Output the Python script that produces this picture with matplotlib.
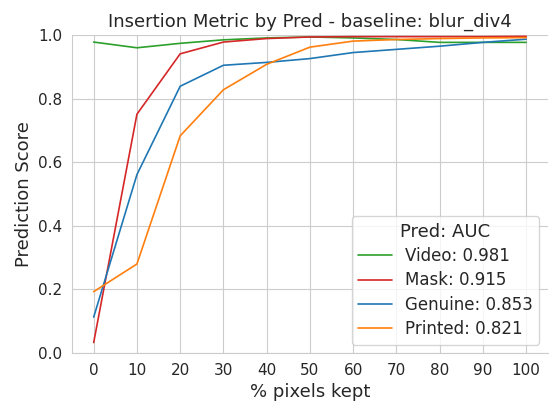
import numpy as np
import matplotlib
matplotlib.use("Agg")
import matplotlib.pyplot as plt
import seaborn as sns

# x axis: percentage of pixels kept
pct_kept = [0, 10, 20, 30, 40, 50, 60, 70, 80, 90, 100]

# insertion curves per predicted class
video = [0.978, 0.960, 0.974, 0.985, 0.991, 0.994, 0.991, 0.986, 0.977, 0.977, 0.977]
mask = [0.033, 0.751, 0.941, 0.978, 0.989, 0.994, 0.995, 0.995, 0.995, 0.995, 0.996]
genuine = [0.113, 0.561, 0.839, 0.905, 0.914, 0.926, 0.945, 0.955, 0.965, 0.977, 0.987]
printed = [0.193, 0.280, 0.683, 0.828, 0.908, 0.962, 0.981, 0.986, 0.989, 0.991, 0.992]

labels = ["Video", "Mask", "Genuine", "Printed"]
aucs = [0.981, 0.915, 0.853, 0.821]
colors = ["tab:green", "tab:red", "tab:blue", "tab:orange"]

sns.set_style("whitegrid")

fig, ax = plt.subplots(figsize=(5.5, 4.03), dpi=100)

for vals, name, auc, col in zip([video, mask, genuine, printed], labels, aucs, colors):
    ax.plot(pct_kept, vals, color=col, linewidth=1.2, label=f"{name}: {auc:.3f}")

ax.set_xticks(pct_kept)
ax.set_ylim(0, 1.0)
ax.set_xlim(-5, 105)
ax.set_xlabel("% pixels kept", fontsize=13)
ax.set_ylabel("Prediction Score", fontsize=13)
ax.set_title("Insertion Metric by Pred - baseline: blur_div4", fontsize=13)
ax.tick_params(labelsize=11)
for s in ["top", "right"]:
    ax.spines[s].set_visible(False)

ax.legend(title="Pred: AUC", loc="lower right", fontsize=12, title_fontsize=13,
          labelspacing=0.38)

fig.subplots_adjust(left=0.131, right=0.996, top=0.913, bottom=0.124)
fig.savefig("out.png", dpi=100)
